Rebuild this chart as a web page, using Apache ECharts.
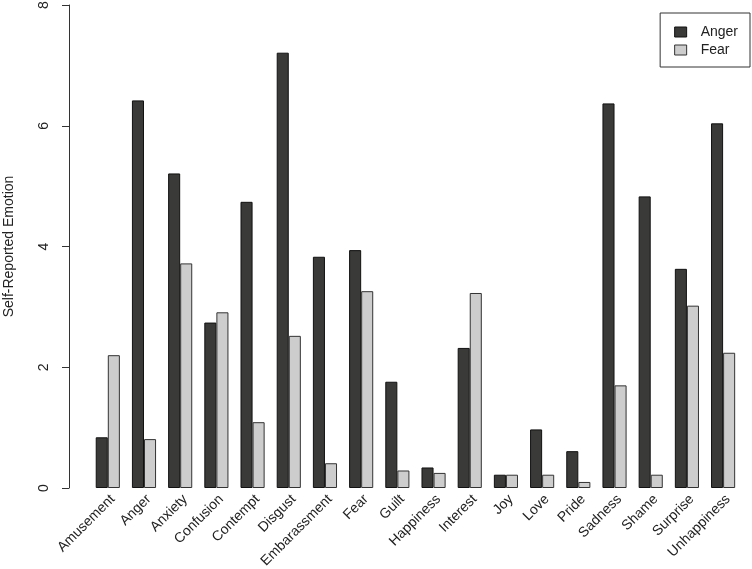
<!DOCTYPE html>
<html>
<head>
<meta charset="utf-8">
<script src="https://cdn.jsdelivr.net/npm/echarts@6/dist/echarts.min.js"></script>
<style>
  html, body { margin: 0; padding: 0; background: #fff; }
  #chart { width: 752px; height: 569px; }
</style>
</head>
<body>
<div id="chart"></div>
<script>
var emotions = ['Amusement', 'Anger', 'Anxiety', 'Confusion', 'Contempt', 'Disgust',
  'Embarassment', 'Fear', 'Guilt', 'Happiness', 'Interest', 'Joy', 'Love', 'Pride',
  'Sadness', 'Shame', 'Surprise', 'Unhappiness']
var angerValues = [0.84, 6.42, 5.21, 2.74, 4.74, 7.21, 3.83, 3.94, 1.76, 0.34, 2.32,
  0.22, 0.97, 0.61, 6.37, 4.83, 3.63, 6.04]
var fearValues = [2.20, 0.81, 3.72, 2.91, 1.09, 2.52, 0.41, 3.26, 0.29, 0.25, 3.23,
  0.22, 0.22, 0.10, 1.70, 0.22, 3.02, 2.24]
var yTicks = [0, 2, 4, 6, 8]

var font = '"Liberation Sans", Arial, sans-serif'
var chart = echarts.init(document.getElementById('chart'))

var option = {
  backgroundColor: '#fff',
  animation: false,
  textStyle: { fontFamily: font },
  legend: {
    orient: 'vertical',
    right: 2,
    top: 13,
    padding: [12, 12, 10, 14],
    itemGap: 4,
    itemWidth: 12,
    itemHeight: 10,
    borderColor: '#333',
    borderWidth: 1,
    borderRadius: 0,
    textStyle: { fontFamily: font, fontSize: 14, color: '#222', padding: [0, 0, 0, 9] },
    data: [
      { name: 'Anger', icon: 'rect', itemStyle: { color: '#3a3a38', borderColor: '#111', borderWidth: 1 } },
      { name: 'Fear', icon: 'rect', itemStyle: { color: '#cdcdcd', borderColor: '#333', borderWidth: 1 } }
    ]
  },
  grid: {
    left: 89.7,
    right: 10.8,
    top: 5,
    bottom: 81,
    outerBoundsMode: 'none'
  },
  xAxis: {
    type: 'category',
    data: emotions,
    axisLine: { show: false },
    axisTick: { show: false },
    axisLabel: {
      rotate: 45,
      margin: 4,
      interval: 0,
      verticalAlign: 'top',
      fontFamily: font,
      fontSize: 14,
      color: '#222'
    }
  },
  yAxis: {
    type: 'value',
    min: yTicks[0],
    max: yTicks[yTicks.length - 1],
    interval: 2,
    offset: 20.7,
    name: 'Self-Reported Emotion',
    nameLocation: 'middle',
    nameGap: 53,
    nameTextStyle: { fontFamily: font, fontSize: 14, color: '#222' },
    splitLine: { show: false },
    axisLine: { show: true, lineStyle: { color: '#333', width: 1 } },
    axisTick: { show: true, length: 7, lineStyle: { color: '#333' } },
    axisLabel: {
      rotate: 90,
      margin: 18,
      fontFamily: font,
      fontSize: 14,
      color: '#222'
    }
  },
  series: [
    {
      name: 'Anger',
      type: 'bar',
      data: angerValues,
      barWidth: '33.33%',
      barGap: '0%',
      itemStyle: { color: '#3a3a38', borderColor: '#111', borderWidth: 1 }
    },
    {
      name: 'Fear',
      type: 'bar',
      data: fearValues,
      barWidth: '33.33%',
      itemStyle: { color: '#cdcdcd', borderColor: '#333', borderWidth: 1 }
    }
  ]
}
chart.setOption(option)
</script>
</body>
</html>
